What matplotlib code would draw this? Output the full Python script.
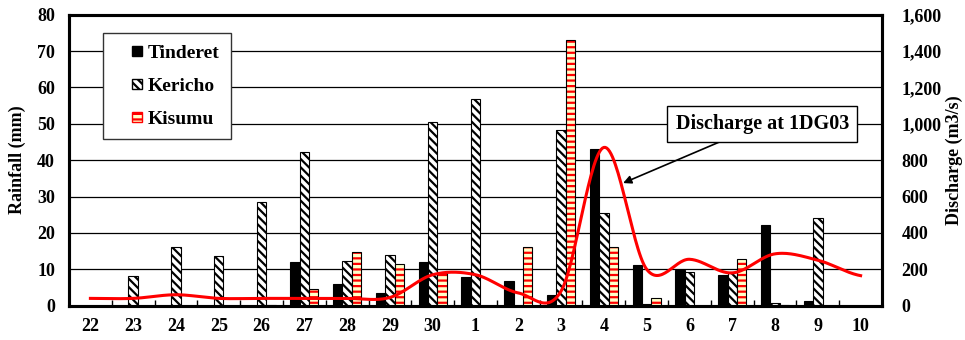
import matplotlib
matplotlib.use("Agg")
import matplotlib.pyplot as plt
import numpy as np
from matplotlib.patches import Patch, Rectangle
from matplotlib.legend_handler import HandlerPatch

# daily rainfall at three stations and discharge at 1DG03
days = ["22", "23", "24", "25", "26", "27", "28", "29", "30",
        "1", "2", "3", "4", "5", "6", "7", "8", "9", "10"]
tinderet = [0, 0, 0, 0, 0, 12.0, 6.0, 3.4, 11.9, 8.0, 6.8, 2.9, 43.1, 11.1, 9.8, 8.5, 22.2, 1.3, 0]
kericho = [0, 8.1, 16.1, 13.6, 28.6, 42.2, 12.3, 13.9, 50.6, 56.7, 0, 48.2, 25.4, 0.5, 9.2, 9.2, 0.8, 24.2, 0]
kisumu = [0, 0, 0, 0, 0.3, 4.6, 14.8, 11.4, 9.0, 0, 16.0, 72.9, 16.1, 2.0, 0, 12.7, 0.3, 0, 0]
discharge = [40, 40, 60, 40, 40, 40, 40, 45, 170, 170, 70, 80, 870, 200, 255, 180, 285, 250, 165]

plt.rcParams['font.family'] = ['Liberation Serif', 'DejaVu Serif']
plt.rcParams['font.weight'] = 'bold'
plt.rcParams['hatch.linewidth'] = 1.6


def smooth(xs, ys, n=30):
    # Excel-style smoothed line (uniform Catmull-Rom through the points)
    xs = np.asarray(xs, float)
    ys = np.asarray(ys, float)
    px = np.concatenate([[2 * xs[0] - xs[1]], xs, [2 * xs[-1] - xs[-2]]])
    py = np.concatenate([[ys[0]], ys, [ys[-1]]])
    out_x, out_y = [], []
    t = np.linspace(0, 1, n, endpoint=False)
    for i in range(1, len(px) - 2):
        for p, out in ((px, out_x), (py, out_y)):
            p0, p1, p2, p3 = p[i - 1], p[i], p[i + 1], p[i + 2]
            out.extend(0.5 * (2 * p1 + (-p0 + p2) * t
                              + (2 * p0 - 5 * p1 + 4 * p2 - p3) * t ** 2
                              + (-p0 + 3 * p1 - 3 * p2 + p3) * t ** 3))
    out_x.append(xs[-1])
    out_y.append(ys[-1])
    return np.array(out_x), np.array(out_y)


def square_right(legend, orig_handle, xdescent, ydescent, width, height, fontsize):
    # small square key sitting at the right end of the handle area
    s = 10 * 72 / 100.0
    return Rectangle((width - s - xdescent, (height - s) / 2 - ydescent), s, s)


fig = plt.figure(figsize=(9.65, 3.4), dpi=100)
ax = fig.add_axes([0.0715, 0.101, 0.8425, 0.856])

x = np.arange(len(days))
w = 0.22

ax.bar(x - w, tinderet, w, color='black', edgecolor='black', linewidth=0.8, zorder=2)
ax.bar(x, kericho, w, color='white', edgecolor='black', hatch='\\\\\\\\',
       linewidth=0.8, zorder=2)
# Kisumu: yellow fill with red stripes, black outline drawn on top
ax.bar(x + w, kisumu, w, color='#ffffc8', edgecolor='red', hatch='---',
       linewidth=0, zorder=2)
ax.bar(x + w, kisumu, w, fill=False, edgecolor='black', linewidth=0.8, zorder=2)

ax.set_xlim(-0.5, len(days) - 0.5)
ax.set_ylim(0, 80)
ax.set_yticks(np.arange(0, 81, 10))
ax.set_xticks(x)
ax.set_xticklabels(days)
ax.set_xticks(np.arange(0.5, len(days) - 1, 1), minor=True)
ax.tick_params(axis='x', which='major', length=0, pad=9, labelsize=13)
ax.tick_params(axis='x', which='minor', direction='in', length=4, width=1)
ax.tick_params(axis='y', length=0, pad=10, labelsize=13)
ax.yaxis.grid(True, color='black', linewidth=0.9)
ax.set_axisbelow(True)
for s in ax.spines.values():
    s.set_linewidth(2.2)
ax.set_ylabel("Rainfall (mm)", fontsize=13, fontweight='bold', labelpad=8)

ax2 = ax.twinx()
sx, sy = smooth(x, discharge)
ax2.plot(sx, sy, color='red', linewidth=2.2, zorder=3)
ax2.set_ylim(0, 1600)
ax2.set_yticks(np.arange(0, 1601, 200))
ax2.set_yticklabels([f"{v:,}" for v in range(0, 1601, 200)])
ax2.tick_params(axis='y', length=0, pad=14, labelsize=13)
for s in ax2.spines.values():
    s.set_linewidth(2.2)
ax2.set_ylabel("Discharge (m3/s)", fontsize=13, fontweight='bold', labelpad=3)

# legend
handles = [Patch(facecolor='black', edgecolor='black'),
           Patch(facecolor='white', edgecolor='black', hatch='\\\\\\\\'),
           Patch(facecolor='#ffffc8', edgecolor='red', hatch='---')]
hm = {h: HandlerPatch(patch_func=square_right) for h in handles}
leg = ax2.legend(handles, ['Tinderet', 'Kericho', 'Kisumu'], handler_map=hm,
                 loc='upper left', bbox_to_anchor=(0.042, 0.937),
                 fancybox=False, framealpha=1, edgecolor='#333333',
                 prop={'size': 14, 'weight': 'bold'},
                 handlelength=1.4, handleheight=0.7, labelspacing=0.78,
                 borderpad=0.6, handletextpad=0.3, borderaxespad=0)
leg.get_frame().set_linewidth(1.0)
leg.set_zorder(5)

ax2.annotate("Discharge at 1DG03", xy=(12.45, 674), xytext=(15.7, 1000),
             fontsize=14.5, fontweight='bold', ha='center', va='center',
             bbox=dict(boxstyle='square,pad=0.4', facecolor='white',
                       edgecolor='black', linewidth=1.0),
             arrowprops=dict(arrowstyle='-|>', color='black', lw=1.2,
                             mutation_scale=12, shrinkA=0, shrinkB=0),
             zorder=6)

fig.savefig("out.png", dpi=100)
